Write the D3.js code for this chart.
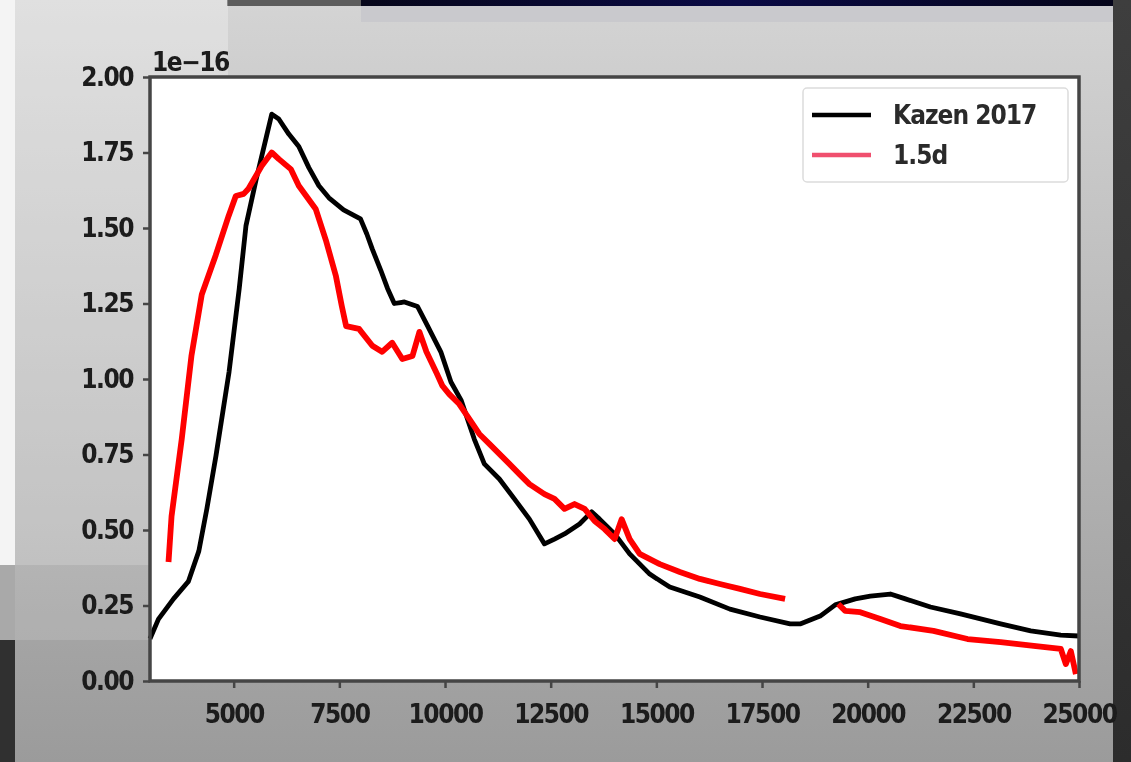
<!DOCTYPE html>
<html>
<head>
<meta charset="utf-8">
<script src="https://cdn.jsdelivr.net/npm/d3@7"></script>
<style>
  html, body { margin: 0; padding: 0; background: #333; }
  svg { display: block; }
  text { font-family: "DejaVu Sans Condensed", "DejaVu Sans", sans-serif; font-weight: bold; }
</style>
</head>
<body>
<div id="chart"></div>
<script>
// Kazen 2017 spectrum (wavelength, flux in 1e-16)
const kazenWave = [3020, 3220, 3576, 3930, 4175, 4365, 4580, 4890, 5130, 5290, 5530, 5770, 5901, 6067, 6304, 6541, 6778, 7016, 7253, 7600, 8000, 8150, 8280, 8480, 8640, 8800, 9040, 9350, 9590, 9900, 10140, 10380, 10692, 10930, 11286, 11641, 11997, 12353, 12590, 12827, 13183, 13468, 13657, 14013, 14369, 14843, 15318, 16029, 16741, 17453, 18164, 18401, 18876, 19232, 19469, 19706, 20062, 20537, 20892, 21485, 22197, 23146, 23858, 24569, 25000];
const kazenFlux = [0.14, 0.205, 0.272, 0.33, 0.43, 0.57, 0.745, 1.023, 1.298, 1.507, 1.66, 1.8, 1.877, 1.861, 1.811, 1.77, 1.7, 1.64, 1.6, 1.56, 1.53, 1.48, 1.43, 1.36, 1.3, 1.25, 1.255, 1.24, 1.175, 1.09, 0.99, 0.93, 0.801, 0.719, 0.669, 0.603, 0.536, 0.454, 0.47, 0.487, 0.52, 0.56, 0.536, 0.487, 0.421, 0.354, 0.311, 0.278, 0.238, 0.212, 0.189, 0.189, 0.215, 0.252, 0.262, 0.272, 0.281, 0.288, 0.272, 0.245, 0.222, 0.189, 0.166, 0.152, 0.149];

// 1.5d spectrum, two pieces with a gap
const d15WaveA = [3458, 3530, 3770, 4000, 4245, 4575, 4880, 5050, 5237, 5350, 5660, 5900, 6070, 6351, 6540, 6940, 7180, 7420, 7560, 7660, 7965, 8280, 8510, 8750, 8990, 9230, 9395, 9560, 9800, 9940, 10099, 10336, 10573, 10811, 11048, 11285, 11522, 11760, 11997, 12353, 12590, 12827, 13064, 13302, 13539, 13776, 14013, 14179, 14369, 14606, 15081, 15556, 16030, 16504, 16979, 17453, 18046];
const d15FluxA = [0.394, 0.546, 0.8, 1.076, 1.28, 1.41, 1.54, 1.606, 1.613, 1.63, 1.705, 1.75, 1.728, 1.695, 1.64, 1.563, 1.46, 1.34, 1.24, 1.175, 1.166, 1.11, 1.09, 1.12, 1.066, 1.076, 1.156, 1.09, 1.02, 0.977, 0.95, 0.917, 0.868, 0.818, 0.785, 0.752, 0.719, 0.685, 0.652, 0.619, 0.603, 0.57, 0.586, 0.57, 0.53, 0.503, 0.47, 0.536, 0.47, 0.421, 0.387, 0.361, 0.338, 0.321, 0.305, 0.288, 0.272];
const d15WaveB = [19302, 19469, 19825, 20300, 20774, 21557, 22363, 23146, 23929, 24570, 24688, 24807, 24926];
const d15FluxB = [0.255, 0.232, 0.228, 0.205, 0.182, 0.166, 0.139, 0.129, 0.116, 0.106, 0.056, 0.099, 0.023];

const xTicks = [5000, 7500, 10000, 12500, 15000, 17500, 20000, 22500, 25000];
const yTicks = [0, 0.25, 0.5, 0.75, 1.0, 1.25, 1.5, 1.75, 2.0];
const legendLabels = ['Kazen 2017', '1.5d'];
const seriesColors = ['#000000', '#ff0000'];

const W = 1131, H = 762;
const plot = { left: 150, right: 1079, top: 77, bottom: 681 };

const svg = d3.select('#chart').append('svg')
  .attr('width', W)
  .attr('height', H);

const defs = svg.append('defs');
const bgGrad = defs.append('linearGradient')
  .attr('id', 'figbg').attr('x1', 0).attr('y1', 0).attr('x2', 0).attr('y2', 1);
bgGrad.append('stop').attr('offset', '0%').attr('stop-color', '#d4d4d4');
bgGrad.append('stop').attr('offset', '100%').attr('stop-color', '#9b9b9b');

const navyGrad = defs.append('linearGradient')
  .attr('id', 'navy').attr('x1', 0).attr('y1', 0).attr('x2', 1).attr('y2', 0);
navyGrad.append('stop').attr('offset', '0%').attr('stop-color', '#06061a');
navyGrad.append('stop').attr('offset', '50%').attr('stop-color', '#0a0a45');
navyGrad.append('stop').attr('offset', '100%').attr('stop-color', '#05051a');

const darkGrad = defs.append('linearGradient')
  .attr('id', 'darkside').attr('x1', 0).attr('y1', 0).attr('x2', 0).attr('y2', 1);
darkGrad.append('stop').attr('offset', '0%').attr('stop-color', '#3e3e3e');
darkGrad.append('stop').attr('offset', '100%').attr('stop-color', '#2c2c2c');

defs.append('filter').attr('id', 'soft')
  .append('feGaussianBlur').attr('stdDeviation', 0.6);

// screen background
svg.append('rect').attr('width', W).attr('height', H).attr('fill', 'url(#darkside)');
svg.append('rect').attr('x', 15).attr('y', 0).attr('width', 1098).attr('height', H).attr('fill', 'url(#figbg)');
svg.append('rect').attr('x', 227).attr('y', 0).attr('width', 134).attr('height', 6).attr('fill', '#5c5c5c');
svg.append('rect').attr('x', 361).attr('y', 0).attr('width', 752).attr('height', 6).attr('fill', 'url(#navy)');
svg.append('rect').attr('x', 361).attr('y', 6).attr('width', 752).attr('height', 16).attr('fill', '#c9c9cd');
svg.append('rect').attr('x', 15).attr('y', 0).attr('width', 213).attr('height', 565).attr('fill', '#fff').attr('opacity', 0.28);
svg.append('rect').attr('x', 15).attr('y', 565).attr('width', 213).attr('height', 75).attr('fill', '#fff').attr('opacity', 0.12);
svg.append('rect').attr('x', 0).attr('y', 0).attr('width', 15).attr('height', 565).attr('fill', '#f4f4f4');
svg.append('rect').attr('x', 0).attr('y', 565).attr('width', 15).attr('height', 75).attr('fill', '#a9a9a9');
svg.append('rect').attr('x', 0).attr('y', 640).attr('width', 15).attr('height', 122).attr('fill', '#303030');

const g = svg.append('g').attr('filter', 'url(#soft)');

const x = d3.scaleLinear().domain([3020, 25000]).range([plot.left, plot.right]);
const y = d3.scaleLinear().domain([0, 2]).range([plot.bottom, plot.top]);

// axes area
g.append('rect')
  .attr('x', plot.left).attr('y', plot.top)
  .attr('width', plot.right - plot.left).attr('height', plot.bottom - plot.top)
  .attr('fill', '#ffffff');

const line = d3.line().x(d => x(d[0])).y(d => y(d[1]));

const zipSeries = (xs, ys) => xs.map((v, i) => [v, ys[i]]);

g.append('path')
  .datum(zipSeries(kazenWave, kazenFlux))
  .attr('d', line)
  .attr('fill', 'none')
  .attr('stroke', seriesColors[0])
  .attr('stroke-width', 4.8)
  .attr('stroke-linejoin', 'round');

[zipSeries(d15WaveA, d15FluxA), zipSeries(d15WaveB, d15FluxB)].forEach(seg => {
  g.append('path')
    .datum(seg)
    .attr('d', line)
    .attr('fill', 'none')
    .attr('stroke', seriesColors[1])
    .attr('stroke-width', 5.8)
    .attr('stroke-linejoin', 'round');
});

// frame
g.append('rect')
  .attr('x', plot.left).attr('y', plot.top)
  .attr('width', plot.right - plot.left).attr('height', plot.bottom - plot.top)
  .attr('fill', 'none')
  .attr('stroke', '#454545')
  .attr('stroke-width', 3.5);

const xAxis = g.append('g')
  .attr('transform', `translate(0, ${plot.bottom})`)
  .call(d3.axisBottom(x).tickValues(xTicks).tickFormat(d3.format('d')).tickSize(7).tickPadding(10));
const yAxis = g.append('g')
  .attr('transform', `translate(${plot.left}, 0)`)
  .call(d3.axisLeft(y).tickValues(yTicks).tickFormat(d3.format('.2f')).tickSize(7).tickPadding(10));

[xAxis, yAxis].forEach(ax => {
  ax.select('.domain').remove();
  ax.selectAll('line').attr('stroke', '#454545').attr('stroke-width', 2.5);
  ax.selectAll('text')
    .attr('fill', '#1a1a1a')
    .style('font-size', '26px')
    .style('font-family', '"DejaVu Sans Condensed", "DejaVu Sans", sans-serif')
    .style('font-weight', 'bold')
    .attr('letter-spacing', '-1.5');
});
xAxis.selectAll('text').attr('dy', '0.95em');

g.append('text')
  .attr('x', plot.left + 2)
  .attr('y', plot.top - 6)
  .attr('fill', '#1a1a1a')
  .style('font-size', '26px')
  .attr('letter-spacing', '-1.5')
  .text('1e\u221216');

// legend
const legend = g.append('g').attr('transform', 'translate(803, 88)');
legend.append('rect')
  .attr('width', 265).attr('height', 94).attr('rx', 4)
  .attr('fill', '#ffffff').attr('fill-opacity', 0.85)
  .attr('stroke', '#dcdcdc').attr('stroke-width', 1.5);

legendLabels.forEach((label, i) => {
  const ly = 27 + i * 40;
  legend.append('line')
    .attr('x1', 9).attr('x2', 68)
    .attr('y1', ly).attr('y2', ly)
    .attr('stroke', seriesColors[i] === '#ff0000' ? '#f0506e' : seriesColors[i])
    .attr('stroke-width', 4.5);
  legend.append('text')
    .attr('x', 90).attr('y', ly + 9)
    .attr('fill', '#2a2a2a')
    .style('font-size', '26px')
    .attr('letter-spacing', '-1')
    .text(label);
});
</script>
</body>
</html>
